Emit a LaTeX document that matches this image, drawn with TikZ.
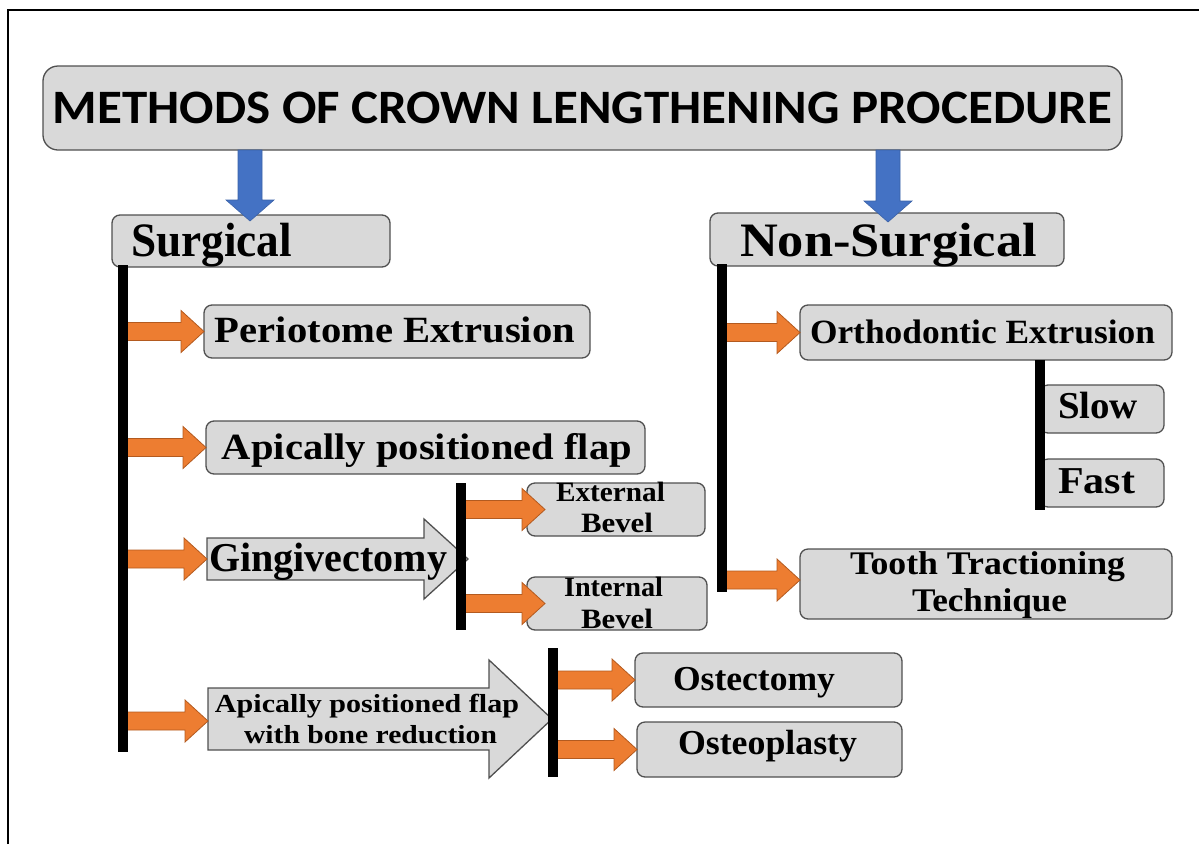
\documentclass[tikz,border=0pt]{standalone}
\usepackage{fontspec}
\setmainfont{Liberation Serif}
\newfontfamily\calib{Carlito}
\usepackage{graphicx}
\usetikzlibrary{calc}
\definecolor{boxfill}{HTML}{D9D9D9}
\definecolor{boxline}{HTML}{505050}
\definecolor{orfill}{HTML}{ED7D31}
\definecolor{orline}{HTML}{B35A1F}
\definecolor{blfill}{HTML}{4472C4}
\newcommand\fw[2]{\resizebox{#1}{\height}{#2}}
\newcommand\fsz[1]{\fontsize{#1}{#1}\selectfont\bfseries}
\newcommand\oarr[2]{\draw[oarrow] let \p1=(#1), \p2=(#2) in
  (\x1,\y2+9pt) -- (\x2-23pt,\y2+9pt) -- (\x2-23pt,\y2+21pt) -- (\x2,\y2)
  -- (\x2-23pt,\y2-21pt) -- (\x2-23pt,\y2-9pt) -- (\x1,\y2-9pt) -- cycle;}
\newcommand\barr[2]{\draw[barrow] let \p1=(#1), \p2=(#2) in
  (\x2-12pt,\y1) -- (\x2-12pt,\y2+21pt) -- (\x2-24pt,\y2+21pt) -- (\x2,\y2)
  -- (\x2+24pt,\y2+21pt) -- (\x2+12pt,\y2+21pt) -- (\x2+12pt,\y1) -- cycle;}
\tikzset{
  box/.style={draw=boxline, fill=boxfill, line width=1.3pt, rounded corners=8pt, inner sep=0pt, outer sep=0pt},
  lbl/.style={inner sep=0pt, outer sep=0pt, anchor=base, text=black},
  bar/.style={line width=9.5pt, black},
  oarrow/.style={fill=orfill, draw=orline, line width=0.8pt},
  barrow/.style={fill=blfill, draw=blfill!85!black, line width=0.6pt},
  garrow/.style={fill=boxfill, draw=boxline, line width=1.3pt, line join=miter},
}
\begin{document}
\begin{tikzpicture}[x=1pt,y=-1pt]
\useasboundingbox (0,0) rectangle (1199,844);
\draw[line width=2pt] (8,844) -- (8,10) -- (1199,10);

% boxes
\node[box, rounded corners=15pt, minimum width=1079pt, minimum height=84pt] (title) at (582.5,108) {};
\node[box, minimum width=278pt, minimum height=52pt] (surg) at (251,241) {};
\node[box, minimum width=354pt, minimum height=53pt] (nons) at (887,239.5) {};
\node[box, minimum width=386pt, minimum height=53pt] (peri) at (397,331.5) {};
\node[box, minimum width=439pt, minimum height=53pt] (apf) at (425.5,447.5) {};
\node[box, minimum width=178pt, minimum height=53pt] (ext) at (616,509.5) {};
\node[box, minimum width=180pt, minimum height=53pt] (int) at (617,603.5) {};
\node[box, minimum width=267pt, minimum height=54pt] (ostec) at (768.5,680) {};
\node[box, minimum width=265pt, minimum height=55pt] (ostep) at (769.5,749.5) {};
\node[box, minimum width=372pt, minimum height=55pt] (ortho) at (986,332.5) {};
\node[box, minimum width=124pt, minimum height=48pt] (slow) at (1102,409) {};
\node[box, minimum width=124pt, minimum height=48pt] (fast) at (1102,483) {};
\node[box, minimum width=372pt, minimum height=70pt] (tooth) at (986,584) {};

% gray block arrows
\draw[garrow] (207,538) -- (424,538) -- (424,519) -- (468,559) -- (424,599) -- (424,580) -- (207,580) -- cycle;
\draw[garrow] (208,688) -- (489,688) -- (489,660) -- (552,719) -- (489,778) -- (489,750) -- (208,750) -- cycle;

% coordinates
\coordinate (sb1) at (123,265); \coordinate (sb2) at (123,752);
\coordinate (nb1) at (722,264); \coordinate (nb2) at (722,592);
\coordinate (gb1) at (461,483); \coordinate (gb2) at (461,630);
\coordinate (bb1) at (553,648); \coordinate (bb2) at (553,777);
\coordinate (ob1) at (1040,360); \coordinate (ob2) at (1040,510);
\coordinate (gw) at (207,559);
\coordinate (bw) at (208,721);
\coordinate (bl1) at (250,150); \coordinate (bl2) at (250,221);
\coordinate (br1) at (888,150); \coordinate (br2) at (888,222);

% orange arrows
\oarr{sb1}{peri.west}
\oarr{sb1}{apf.west}
\oarr{sb1}{gw}
\oarr{sb1}{bw}
\oarr{gb1}{[xshift=18pt]ext.west}
\oarr{gb1}{[xshift=18pt]int.west}
\oarr{bb1}{ostec.west}
\oarr{bb1}{ostep.west}
\oarr{nb1}{ortho.west}
\oarr{nb1}{[yshift=4pt]tooth.west}

% bars
\draw[bar] (sb1) -- (sb2);
\draw[bar] (nb1) -- (nb2);
\draw[bar] (gb1) -- (gb2);
\draw[bar] (bb1) -- (bb2);
\draw[bar] (ob1) -- (ob2);

% blue arrows
\barr{bl1}{bl2}
\barr{br1}{br2}

% texts
\node[lbl] (ttitle) at (582.5,123) {\calib\fsz{48}\fw{1059pt}{METHODS OF CROWN LENGTHENING PROCEDURE}};
\node[lbl] (tsurg) at (211.5,256) {\fsz{48}\fw{161pt}{Surgical}};
\node[lbl] (tnons) at (888.5,256) {\fsz{48}\fw{297pt}{Non-Surgical}};
\node[lbl] (tperi) at (395,342) {\fsz{37}\fw{360pt}{Periotome Extrusion}};
\node[lbl] (tapf) at (427,459) {\fsz{37}\fw{410pt}{Apically positioned flap}};
\node[lbl] (tging) at (328,571) {\fsz{41}\fw{238pt}{Gingivectomy}};
\node[lbl] (text1) at (610.5,501) {\fsz{28}\fw{109pt}{External}};
\node[lbl] (text2) at (617,532) {\fsz{28}\fw{72pt}{Bevel}};
\node[lbl] (tint1) at (613.5,596) {\fsz{28}\fw{99pt}{Internal}};
\node[lbl] (tint2) at (617,628) {\fsz{28}\fw{72pt}{Bevel}};
\node[lbl] (tbone1) at (367,712) {\fsz{26}\fw{304pt}{Apically positioned flap}};
\node[lbl] (tbone2) at (370.5,743) {\fsz{26}\fw{253pt}{with bone reduction}};
\node[lbl] (tostec) at (754,690) {\fsz{35}\fw{162pt}{Ostectomy}};
\node[lbl] (tostep) at (767.5,754) {\fsz{35}\fw{179pt}{Osteoplasty}};
\node[lbl] (tortho) at (982.5,343) {\fsz{34}\fw{345pt}{Orthodontic Extrusion}};
\node[lbl] (tslow) at (1098,418) {\fsz{38}\fw{80pt}{Slow}};
\node[lbl] (tfast) at (1096.5,493) {\fsz{38}\fw{77pt}{Fast}};
\node[lbl] (ttooth1) at (987.5,574) {\fsz{33}\fw{275pt}{Tooth Tractioning}};
\node[lbl] (ttooth2) at (989.5,611) {\fsz{33}\fw{155pt}{Technique}};
\end{tikzpicture}
\end{document}
